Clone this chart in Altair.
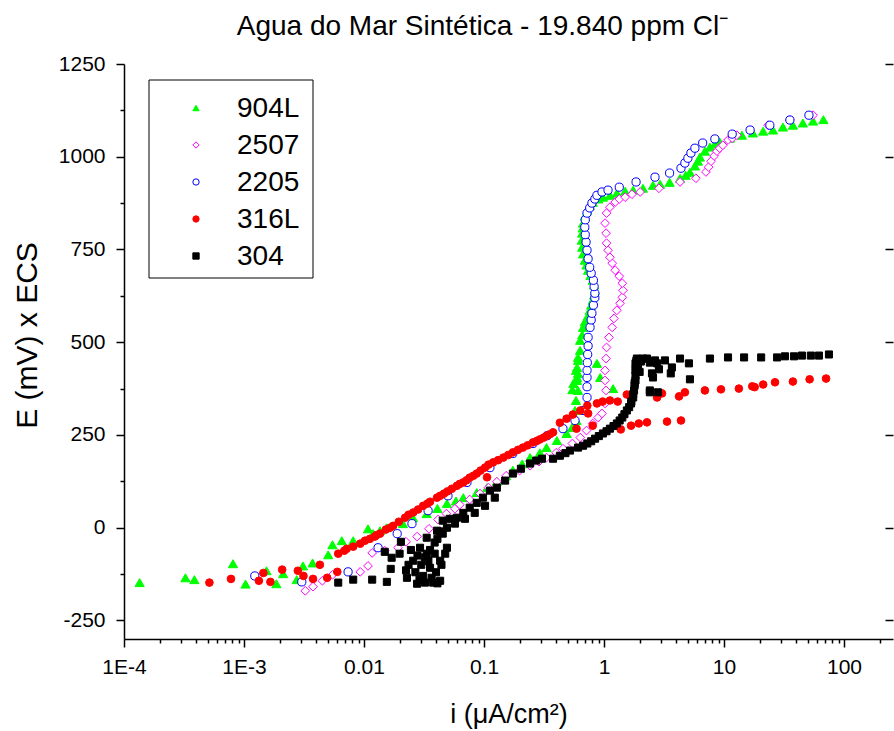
import altair as alt
import pandas as pd

series = ["904L", "2507", "2205", "316L", "304"]
stroke_colors = ["#00ff00", "#ff00ff", "#0000ff", "#ff0000", "#000000"]
fill_colors = ["#00ff00", "#ffffff", "#ffffff", "#ff0000", "#000000"]
shapes = ["triangle-up", "diamond", "circle", "circle", "square"]
sizes = [85, 50, 60, 85, 70]

# ---------------- 904L ----------------
i_904L = [1.35e-4, 3.25e-4, 3.86e-4, 8.1e-4, 1.03e-3, 1.54e-3, 1.86e-3, 2.12e-3, 2.75e-3, 3.1e-3,
          3.73e-3, 5.03e-3, 5.46e-3, 6.53e-3, 8.13e-3, 0.0108, 0.0119, 0.0136, 0.0154, 0.0211,
          0.0256, 0.0333, 0.0409, 0.0491, 0.0584, 0.0672, 0.087, 0.106, 0.128, 0.153,
          0.174, 0.208, 0.242, 0.292, 0.332, 0.405, 0.488, 0.542, 0.59, 0.573,
          0.584, 0.607, 0.545, 0.596, 0.556, 0.596, 0.584, 0.596, 0.607, 0.607,
          0.632, 0.632, 0.658, 0.669, 0.692, 0.737, 0.76, 0.782, 0.805, 0.827,
          0.839, 0.827, 0.805, 0.771, 0.737, 0.715, 0.692, 0.669, 0.658, 0.653,
          0.658, 0.664, 0.669, 0.692, 0.726, 0.76, 0.805, 0.895, 0.979, 1.122,
          1.28, 1.50, 1.75, 2.11, 2.56, 2.93, 3.52, 4.30, 4.79, 5.2,
          5.72, 6.06, 6.3, 6.93, 7.63, 8.39, 9.2, 11.2, 14.1, 17.4,
          21.2, 25.6, 31.0, 37.5, 45.4, 55.2, 67.3, 0.873, 0.929, 1.19, 0.692, 0.607]
E_904L = [-148, -135, -140, -97, -152, -116, -151, -124, -140, -103,
          -95, -73, -46, -35, -35, -3, -16, -8, 0, 11,
          27, 38, 52, 65, 72, 81, 95, 108, 125, 140,
          155, 172, 189, 202, 216, 235, 254, 270, 289, 316,
          343, 370, 372, 397, 389, 405, 424, 432, 451, 459,
          478, 505, 520, 540, 555, 572, 586, 600, 613, 627,
          640, 654, 667, 680, 694, 708, 721, 738, 756, 775,
          794, 808, 821, 840, 856, 868, 877, 886, 891, 896,
          902, 907, 910, 915, 923, 926, 931, 942, 950, 958,
          975, 988, 999, 1015, 1026, 1034, 1040, 1050, 1058, 1064,
          1069, 1072, 1080, 1085, 1091, 1096, 1100, 443, 405, 375, 316, 416]

# ---------------- 2507 ----------------
i_2507 = [3.24e-3, 3.76e-3, 4.5e-3, 5.46e-3, 9.3e-3, 0.0108, 0.0117, 0.0149, 0.0192, 0.0224,
          0.0277, 0.0348, 0.0414, 0.0486, 0.0573, 0.0628, 0.076, 0.0925, 0.109, 0.128,
          0.153, 0.198, 0.242, 0.287, 0.332, 0.399, 0.455, 0.545, 0.635, 0.715,
          0.805, 0.895, 0.962, 1.02, 1.04, 1.02, 1.02, 1.04, 1.05, 1.10,
          1.17, 1.21, 1.28, 1.36, 1.42, 1.44, 1.42, 1.34, 1.24, 1.17,
          1.12, 1.08, 1.05, 1.04, 1.02, 1.05, 1.12, 1.24, 1.34, 1.50,
          1.71, 2.0, 2.87, 4.30, 5.83, 7.07, 7.45, 7.8, 8.27, 8.73,
          9.2, 9.78, 10.8, 11.7, 12.8, 23.3, 35.4, 55.2]
E_2507 = [-170, -159, -143, -127, -119, -103, -68, -62, -54, -38,
          -24, -3, 22, 38, 51, 62, 76, 92, 108, 124,
          140, 154, 167, 178, 189, 202, 213, 227, 243, 262,
          281, 297, 308, 335, 370, 397, 424, 456, 486, 513,
          540, 564, 586, 605, 621, 640, 659, 678, 694, 713,
          729, 748, 767, 794, 821, 848, 864, 878, 886, 891,
          899, 905, 915, 932, 942, 959, 972, 988, 1002, 1015,
          1023, 1031, 1045, 1050, 1058, 1085, 1099, 1112]

# ---------------- 2205 ----------------
i_2205 = [1.23e-3, 3.03e-3, 7.37e-3, 0.0131, 0.0189, 0.0251, 0.0342, 0.0501, 0.0721, 0.112,
          0.174, 0.256, 0.335, 0.455, 0.573, 0.669, 0.722, 0.722, 0.722, 0.722,
          0.726, 0.731, 0.737, 0.737, 0.765, 0.782, 0.793, 0.816, 0.839, 0.839,
          0.827, 0.816, 0.782, 0.76, 0.737, 0.722, 0.709, 0.698, 0.692, 0.698,
          0.722, 0.76, 0.793, 0.839, 0.873, 0.962, 1.08, 1.34, 1.85, 2.66,
          3.52, 4.38, 4.72, 5.0, 5.3, 5.72, 6.64, 8.39, 11.7, 16.5,
          24.1, 35.4, 51.0]
E_2205 = [-130, -146, -119, -54, -16, 11, 46, 86, 122, 162,
          200, 227, 248, 267, 289, 316, 351, 380, 405, 424,
          445, 467, 490, 513, 540, 560, 578, 600, 620, 632,
          650, 667, 686, 702, 725, 748, 770, 790, 810, 830,
          848, 862, 875, 886, 896, 905, 910, 918, 932, 945,
          956, 969, 983, 996, 1010, 1023, 1037, 1048, 1061, 1072,
          1085, 1099, 1112]

# ---------------- 316L ----------------
i_316L = [5.15e-4, 7.79e-4, 1.33e-3, 1.45e-3, 1.66e-3, 2.08e-3, 2.81e-3, 3.13e-3, 3.76e-3, 4.29e-3,
          4.93e-3, 5.99e-3, 6.1e-3, 6.85e-3, 7.17e-3, 8.13e-3, 9.3e-3, 0.0102, 0.0112, 0.0123,
          0.0127, 0.0136, 0.0152, 0.0165, 0.0175, 0.0195, 0.022, 0.0235, 0.0257, 0.0282,
          0.0311, 0.0338, 0.0355, 0.0406, 0.0431, 0.0464, 0.0497, 0.054, 0.0595, 0.0628,
          0.0672, 0.0716, 0.076, 0.0815, 0.087, 0.0936, 0.102, 0.109, 0.119, 0.131,
          0.145, 0.159, 0.174, 0.192, 0.211, 0.231, 0.256, 0.276, 0.292, 0.315,
          0.335, 0.354, 0.376, 0.106, 0.429, 0.488, 0.55, 0.635, 0.726, 0.59,
          0.737, 0.805, 0.873, 0.974, 1.12, 1.30, 1.55, 2.77, 3.04, 4.22,
          4.72, 6.93, 9.43, 13.3, 17.2, 18.0, 21.2, 26.6, 37.5, 51.7,
          70.9, 1.38, 1.68, 1.95, 2.28, 3.35, 4.38]
E_316L = [-148, -138, -143, -122, -146, -113, -116, -130, -138, -100,
          -135, -119, -70, -62, -57, -51, -43, -35, -30, -24,
          -20, -16, -5, 0, 5, 16, 27, 35, 41, 49,
          59, 65, 70, 81, 86, 92, 98, 105, 113, 118,
          122, 128, 135, 140, 146, 154, 162, 170, 176, 182,
          189, 196, 203, 210, 216, 222, 230, 234, 238, 243,
          248, 252, 257, 136, 283, 294, 305, 316, 329, 267,
          308, 275, 335, 340, 343, 340, 359, 351, 362, 354,
          365, 370, 373, 375, 381, 379, 386, 392, 394, 400,
          402, 265, 275, 281, 284, 286, 289]

# ---------------- 304 ----------------
i_304 = [6.1e-3, 8.13e-3, 0.0117, 0.0155, 0.0149, 0.017, 0.0203, 0.0198, 0.0167, 0.0228,
         0.0277, 0.0322, 0.0377, 0.0431, 0.0257, 0.0293, 0.0333, 0.0355, 0.0431, 0.0388,
         0.0333, 0.0491, 0.0453, 0.0235, 0.0268, 0.03, 0.0322, 0.0355, 0.0388, 0.0311,
         0.0398, 0.0442, 0.0475, 0.0246, 0.0279, 0.0344, 0.0366, 0.0409, 0.0431, 0.0224,
         0.029, 0.0409, 0.0406, 0.0453, 0.0491, 0.0518, 0.0573, 0.0595, 0.0672, 0.0694,
         0.076, 0.0837, 0.087, 0.0979, 0.102, 0.112, 0.123, 0.128, 0.15, 0.174,
         0.203, 0.242, 0.272, 0.304, 0.376, 0.429, 0.477, 0.521, 0.608, 0.669,
         0.726, 0.782, 0.843, 0.906, 0.979, 1.05, 1.12, 1.20, 1.28, 1.35,
         1.42, 1.48, 1.55, 1.62, 1.68, 1.69, 1.75, 1.75, 1.78, 1.80,
         1.80, 1.83, 1.83, 1.83, 1.84, 1.83, 1.86, 1.88, 1.92, 1.98,
         2.03, 2.11, 2.41, 2.77, 2.51, 2.41, 2.81, 2.28, 2.66, 3.22,
         4.30, 5.1, 3.68, 3.60, 2.87, 2.56, 5.2, 2.41, 7.63, 10.8,
         14.7, 20.4, 27.7, 32.2, 38.3, 44.6, 52.9, 61.8, 74.9]
E_304 = [-148, -140, -140, -146, -65, -81, -38, -70, -111, -135,
         -151, -148, -148, -143, -89, -54, -27, -108, -89, -70,
         -70, -54, -16, -100, -120, -100, -80, -60, -40, -130,
         -120, -100, -70, -60, -75, -90, -135, -30, -10, -115,
         -140, -150, -8, 19, 0, 24, 11, 27, 40, 24,
         54, 40, 67, 81, 59, 100, 81, 108, 127, 146,
         159, 173, 181, 186, 186, 194, 201, 208, 216, 221,
         227, 233, 240, 247, 254, 260, 267, 274, 281, 289,
         297, 306, 316, 325, 335, 340, 351, 360, 370, 384,
         390, 397, 410, 424, 430, 443, 450, 456, 440, 420,
         448, 456, 445, 443, 416, 370, 365, 456, 451, 451,
         456, 443, 432, 416, 427, 405, 400, 365, 456, 459,
         459, 459, 459, 462, 462, 464, 464, 464, 467]

# axis tick values
decades = [1e-4, 1e-3, 1e-2, 1e-1, 1, 10, 100]
multipliers = [1, 2, 3, 4, 5, 6, 7, 8, 9]
x_max = 256
x_ticks = [round(d * m, 6) for d in decades for m in multipliers if d * m <= x_max]
y_ticks = list(range(-250, 1251, 125))
y_major = list(range(-250, 1251, 250))

rows = []
for name, ii, ee in [("904L", i_904L, E_904L), ("2507", i_2507, E_2507),
                     ("2205", i_2205, E_2205), ("316L", i_316L, E_316L),
                     ("304", i_304, E_304)]:
    for a, b in zip(ii, ee):
        rows.append({"serie": name, "i": a, "E": b})
df = pd.DataFrame(rows)
legend_df = pd.DataFrame({"serie": series, "row": list(range(len(series)))})

FONT = "Liberation Sans"
xscale = alt.Scale(type="log", domain=[1e-4, x_max], nice=False)
yscale = alt.Scale(domain=[-300, 1250], nice=False, zero=False)
shape_scale = alt.Scale(domain=series, range=shapes)
stroke_scale = alt.Scale(domain=series, range=stroke_colors)
fill_scale = alt.Scale(domain=series, range=fill_colors)

x_major_test = "abs(log(datum.value)/LN10 - round(log(datum.value)/LN10)) < 0.001"

x_axis = alt.Axis(
    values=x_ticks,
    labelExpr="(" + x_major_test + ") ? (datum.value < 0.005 ? '1E' + round(log(datum.value)/LN10) : toString(datum.value)) : ''",
    tickSize={"condition": {"test": x_major_test, "value": 8}, "value": 4},
    title="i (μA/cm²)", grid=False, labelFontSize=21, titleFontSize=27,
    labelFont=FONT, titleFont=FONT, titleFontWeight="normal",
    labelColor="black", titleColor="black", domainColor="black", tickColor="black",
    domainWidth=1.5, tickWidth=1.5, labelPadding=9, titlePadding=24, labelFlush=False,
    labelOverlap=False,
)
y_axis = alt.Axis(
    values=y_ticks,
    labelExpr="datum.value % 250 == 0 ? toString(datum.value) : ''",
    tickSize={"condition": {"test": "datum.value % 250 == 0", "value": 8}, "value": 4},
    title="E (mV) x ECS", grid=False, labelFontSize=21, titleFontSize=30,
    labelFont=FONT, titleFont=FONT, titleFontWeight="normal",
    labelColor="black", titleColor="black", domainColor="black", tickColor="black",
    domainWidth=1.5, tickWidth=1.5, labelPadding=11, titlePadding=16, labelFlush=False,
    labelOverlap=False, titleY=271,
)

points = alt.Chart(df).mark_point(opacity=1, filled=True, strokeWidth=1, fillOpacity=1).encode(
    x=alt.X("i:Q", scale=xscale, axis=x_axis),
    y=alt.Y("E:Q", scale=yscale, axis=y_axis),
    shape=alt.Shape("serie:N", scale=shape_scale, legend=None),
    stroke=alt.Stroke("serie:N", scale=stroke_scale, legend=None),
    fill=alt.Fill("serie:N", scale=fill_scale, legend=None),
    size=alt.Size("serie:N", scale=alt.Scale(domain=series, range=sizes), legend=None),
)

right_axis = alt.Chart(df).mark_point(opacity=0).encode(
    x=alt.X("i:Q", scale=xscale, axis=None),
    y=alt.Y("E:Q", scale=yscale, axis=alt.Axis(
        orient="right", values=y_major, labels=False, domain=False, tickSize=8,
        offset=-8, tickColor="black", tickWidth=1.5, title=None, grid=False)),
)

# legend (drawn inside the plot, upper left)
row_scale = alt.Scale(domain=list(range(len(series))), range=[44, 192], padding=0)
legend_box = alt.Chart(legend_df.head(1)).mark_rect(
    fill="white", stroke="black", strokeWidth=1).encode(
    x=alt.value(25), x2=alt.value(189), y=alt.value(16), y2=alt.value(214))
legend_symbols = alt.Chart(legend_df).mark_point(
    opacity=1, filled=True, strokeWidth=1, fillOpacity=1, size=40).encode(
    x=alt.value(72),
    y=alt.Y("row:O", scale=row_scale, axis=None),
    shape=alt.Shape("serie:N", scale=shape_scale, legend=None),
    stroke=alt.Stroke("serie:N", scale=stroke_scale, legend=None),
    fill=alt.Fill("serie:N", scale=fill_scale, legend=None),
)
legend_labels = alt.Chart(legend_df).mark_text(
    align="left", baseline="middle", fontSize=28, font=FONT, color="black", dy=1).encode(
    x=alt.value(113),
    y=alt.Y("row:O", scale=row_scale, axis=None),
    text="serie:N",
)

chart = alt.layer(points, right_axis, legend_box, legend_symbols, legend_labels).resolve_scale(
    y="independent"
).resolve_axis(
    x="independent", y="independent"
).properties(
    width=769, height=575,
    padding={"left": 124, "top": 64, "right": 1, "bottom": 92},
    autosize=alt.AutoSizeParams(type="none"),
    title=alt.TitleParams("Agua do Mar Sintética - 19.840 ppm Cl⁻", fontSize=28, font=FONT,
                          fontWeight="normal", color="black", anchor="middle",
                          dx=-26, offset=12),
).configure_view(stroke=None)

chart.save("out.html", embed_options={"renderer": "svg", "actions": False})
